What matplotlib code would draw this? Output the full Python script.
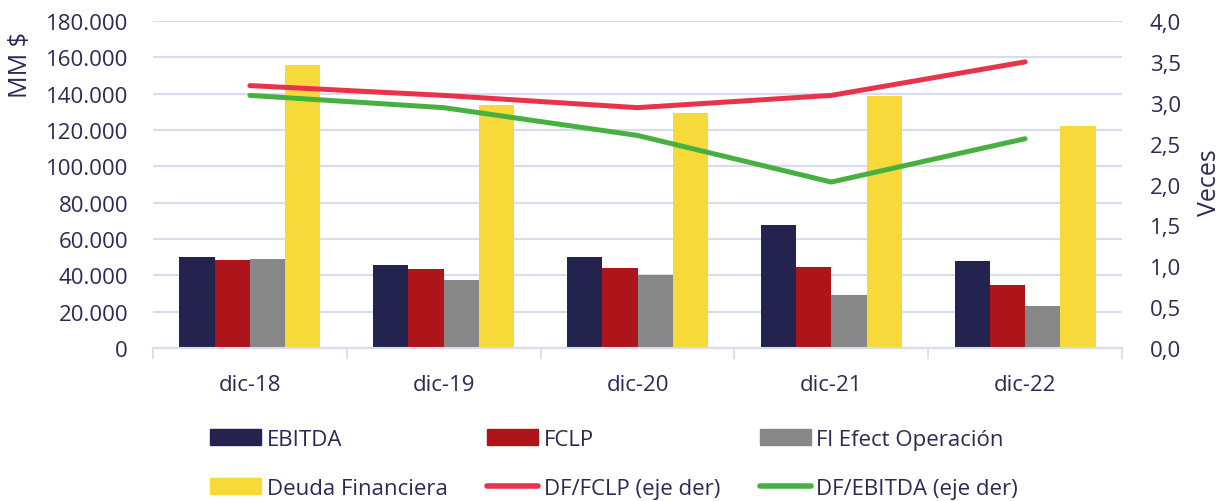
import matplotlib.pyplot as plt
import numpy as np
from matplotlib.ticker import FuncFormatter, FixedLocator
from matplotlib.patches import Patch
from matplotlib.lines import Line2D

plt.rcParams['font.family'] = ['Open Sans', 'DejaVu Sans']

# Data (MM $ and veces)
categorias = ['dic-18', 'dic-19', 'dic-20', 'dic-21', 'dic-22']
ebitda = [50000, 45500, 49900, 67900, 47700]
fclp = [48400, 43300, 43900, 44600, 34700]
fi_efect_operacion = [48800, 37400, 40400, 29000, 22900]
deuda_financiera = [155600, 133800, 129200, 138500, 122400]
df_fclp = [3.21, 3.09, 2.94, 3.09, 3.50]
df_ebitda = [3.09, 2.94, 2.60, 2.03, 2.56]

texto = '#2B2A55'
grilla = '#D9DCEC'

fig = plt.figure(figsize=(12.25, 5.02), dpi=100)
ax = fig.add_axes([153/1225, 1-349/502, 969/1225, 327/502])
ax2 = ax.twinx()

x = np.arange(len(categorias))
w = 0.182
series = [
    (ebitda, '#24224F', 'EBITDA'),
    (fclp, '#AD151B', 'FCLP'),
    (fi_efect_operacion, '#878787', 'Fl Efect Operación'),
    (deuda_financiera, '#F7DA3A', 'Deuda Financiera'),
]
for i, (vals, col, lab) in enumerate(series):
    ax.bar(x + (i - 1.5) * w, vals, width=w, color=col, zorder=3)

ax2.plot(x, df_fclp, color='#E8334A', lw=3.6, solid_capstyle='round', zorder=4)
ax2.plot(x, df_ebitda, color='#46B041', lw=3.6, solid_capstyle='round', zorder=4)

ax.set_xlim(-0.5, 4.5)
ax.set_ylim(0, 180000)
ax.set_yticks(np.arange(0, 180001, 20000))
ax.yaxis.set_major_formatter(FuncFormatter(lambda v, p: f'{int(v):,}'.replace(',', '.')))
ax2.set_ylim(0, 4.0)
ax2.set_yticks(np.arange(0, 4.01, 0.5))
ax2.yaxis.set_major_formatter(FuncFormatter(lambda v, p: f'{v:.1f}'.replace('.', ',')))

ax.set_xticks(x)
ax.set_xticklabels(categorias)
ax.xaxis.set_minor_locator(FixedLocator(np.arange(-0.5, 4.6, 1)))
ax.tick_params(axis='x', which='major', length=0, pad=19, labelsize=16, labelcolor=texto)
ax.tick_params(axis='x', which='minor', length=8, width=1.3, color=grilla, direction='out')
ax.tick_params(axis='y', length=0, pad=18, labelsize=16, labelcolor=texto)
ax2.tick_params(axis='y', length=0, pad=20, labelsize=16, labelcolor=texto)

ax.grid(axis='y', color=grilla, lw=1.5, zorder=0)
ax.set_axisbelow(True)
for a in (ax, ax2):
    for s in ['top', 'left', 'right']:
        a.spines[s].set_visible(False)
    a.spines['bottom'].set_color(grilla)
    a.spines['bottom'].set_linewidth(1.5)

ax.set_ylabel('MM $', fontsize=18, color=texto)
ax.yaxis.set_label_coords(-0.124, 0.87)
ax2.set_ylabel('Veces', fontsize=18, color=texto)
ax2.yaxis.set_label_coords(1.077, 0.51)

handles = [
    Patch(color='#24224F'), Patch(color='#F7DA3A'),
    Patch(color='#AD151B'), Line2D([], [], color='#E8334A', lw=4, solid_capstyle='round'),
    Patch(color='#878787'), Line2D([], [], color='#46B041', lw=4, solid_capstyle='round'),
]
labels = ['EBITDA', 'Deuda Financiera', 'FCLP', 'DF/FCLP (eje der)',
          'Fl Efect Operación', 'DF/EBITDA (eje der)']
leg = fig.legend(handles, labels, ncol=3, loc='upper left',
                 bbox_to_anchor=(210/1225, 1-430/502), frameon=False,
                 fontsize=16, handlelength=2.3, handleheight=0.7, handletextpad=0.25,
                 columnspacing=1.78, labelspacing=1.25, borderpad=0, borderaxespad=0)
for t in leg.get_texts():
    t.set_color(texto)

fig.savefig('out.png', dpi=100)
